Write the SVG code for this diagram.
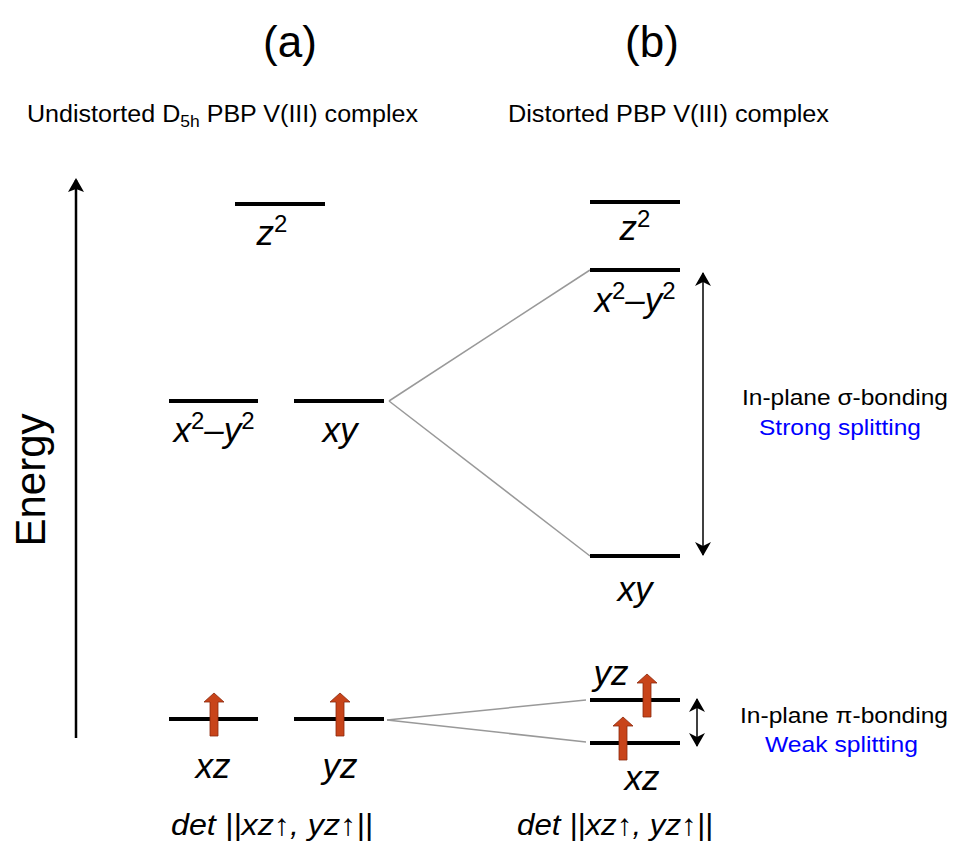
<svg xmlns="http://www.w3.org/2000/svg" width="953" height="843" viewBox="0 0 953 843">
<style>
text{font-family:"Liberation Sans",Arial,sans-serif;fill:#000}
.orb{font-style:italic;font-size:35px;text-anchor:middle}
.sup{font-size:24px;font-style:normal}
.lvl{stroke:#000;stroke-width:4}
.con{stroke:#999;stroke-width:1.5;fill:none}
.spin{fill:#c8441a;stroke:#8a2a0e;stroke-width:0.8}
.blue{fill:#0000ff}
.lab{font-size:22px}
.det{font-size:30px;font-style:italic}
</style>
<defs>
<marker id="ah" markerWidth="14" markerHeight="16" refX="12" refY="8" orient="auto" markerUnits="userSpaceOnUse">
<path d="M0,0 L14,8 L0,16 L3,8 z" fill="#000"/>
</marker>
<marker id="ahs" markerWidth="14" markerHeight="16" refX="13" refY="8" orient="auto-start-reverse" markerUnits="userSpaceOnUse">
<path d="M0,0 L14,8 L0,16 L4,8 z" fill="#000"/>
</marker>
<path id="spinArrow" d="M-4,43 L-4,9 L-10,9 L0,0 L10,9 L4,9 L4,43 z"/>
</defs>

<text x="290" y="57" font-size="44" text-anchor="middle">(a)</text>
<text x="652" y="57" font-size="44" text-anchor="middle">(b)</text>
<text x="27" y="122" font-size="23" textLength="391" lengthAdjust="spacingAndGlyphs">Undistorted D<tspan font-size="16" dy="5">5h</tspan><tspan dy="-5"> PBP V(III) complex</tspan></text>
<text x="508" y="122" font-size="23" textLength="321" lengthAdjust="spacingAndGlyphs">Distorted PBP V(III) complex</text>

<g id="energy-axis">
<line x1="76" y1="738" x2="76" y2="180" stroke="#000" stroke-width="2.5" marker-end="url(#ah)"/>
<text transform="translate(45,480) rotate(-90)" font-size="42" text-anchor="middle">Energy</text>
</g>

<g id="connectors">
<line class="con" x1="389" y1="401" x2="590" y2="270"/>
<line class="con" x1="389" y1="401" x2="590" y2="556"/>
<line class="con" x1="387" y1="720" x2="586" y2="700"/>
<line class="con" x1="387" y1="720" x2="586" y2="742"/>
<line x1="703" y1="555" x2="703" y2="273" stroke="#000" stroke-width="1.5" marker-start="url(#ahs)" marker-end="url(#ahs)"/>
<line x1="697" y1="746" x2="697" y2="699" stroke="#000" stroke-width="1.5" marker-start="url(#ahs)" marker-end="url(#ahs)"/>
</g>

<g id="a-z2">
<line class="lvl" x1="235" y1="204" x2="325" y2="204"/>
<text class="orb" x="272" y="245">z<tspan class="sup" dy="-13">2</tspan></text>
</g>
<g id="a-x2y2">
<line class="lvl" x1="169" y1="401" x2="258" y2="401"/>
<text class="orb" x="214" y="442">x<tspan class="sup" dy="-13">2</tspan><tspan dy="13">–y</tspan><tspan class="sup" dy="-13">2</tspan></text>
</g>
<g id="a-xy">
<line class="lvl" x1="294" y1="401" x2="384" y2="401"/>
<text class="orb" x="340" y="442">xy</text>
</g>
<g id="a-xz">
<line class="lvl" x1="169" y1="719" x2="258" y2="719"/>
<use href="#spinArrow" class="spin" x="214" y="693"/>
<text class="orb" x="213" y="778">xz</text>
</g>
<g id="a-yz">
<line class="lvl" x1="294" y1="719" x2="384" y2="719"/>
<use href="#spinArrow" class="spin" x="340" y="693"/>
<text class="orb" x="340" y="778">yz</text>
</g>

<g id="b-z2">
<line class="lvl" x1="590" y1="202" x2="680" y2="202"/>
<text class="orb" x="635" y="240">z<tspan class="sup" dy="-13">2</tspan></text>
</g>
<g id="b-x2y2">
<line class="lvl" x1="590" y1="270" x2="680" y2="270"/>
<text class="orb" x="635" y="312">x<tspan class="sup" dy="-13">2</tspan><tspan dy="13">–y</tspan><tspan class="sup" dy="-13">2</tspan></text>
</g>
<g id="b-xy">
<line class="lvl" x1="590" y1="556" x2="680" y2="556"/>
<text class="orb" x="635" y="601">xy</text>
</g>
<g id="b-yz">
<line class="lvl" x1="590" y1="700" x2="680" y2="700"/>
<use href="#spinArrow" class="spin" x="647" y="674"/>
<text class="orb" x="611" y="685">yz</text>
</g>
<g id="b-xz">
<line class="lvl" x1="590" y1="743" x2="680" y2="743"/>
<use href="#spinArrow" class="spin" x="623" y="717"/>
<text class="orb" x="642" y="790">xz</text>
</g>

<g id="sigma-label">
<text class="lab" x="742" y="405" textLength="206" lengthAdjust="spacingAndGlyphs">In-plane σ-bonding</text>
<text class="lab blue" x="759" y="435" textLength="162" lengthAdjust="spacingAndGlyphs">Strong splitting</text>
</g>
<g id="pi-label">
<text class="lab" x="740" y="723" textLength="208" lengthAdjust="spacingAndGlyphs">In-plane π-bonding</text>
<text class="lab blue" x="765" y="752" textLength="153" lengthAdjust="spacingAndGlyphs">Weak splitting</text>
</g>

<text class="det" x="171" y="835" textLength="202" lengthAdjust="spacingAndGlyphs">det ||xz↑, yz↑||</text>
<text class="det" x="517" y="835" textLength="196" lengthAdjust="spacingAndGlyphs">det ||xz↑, yz↑||</text>
</svg>
